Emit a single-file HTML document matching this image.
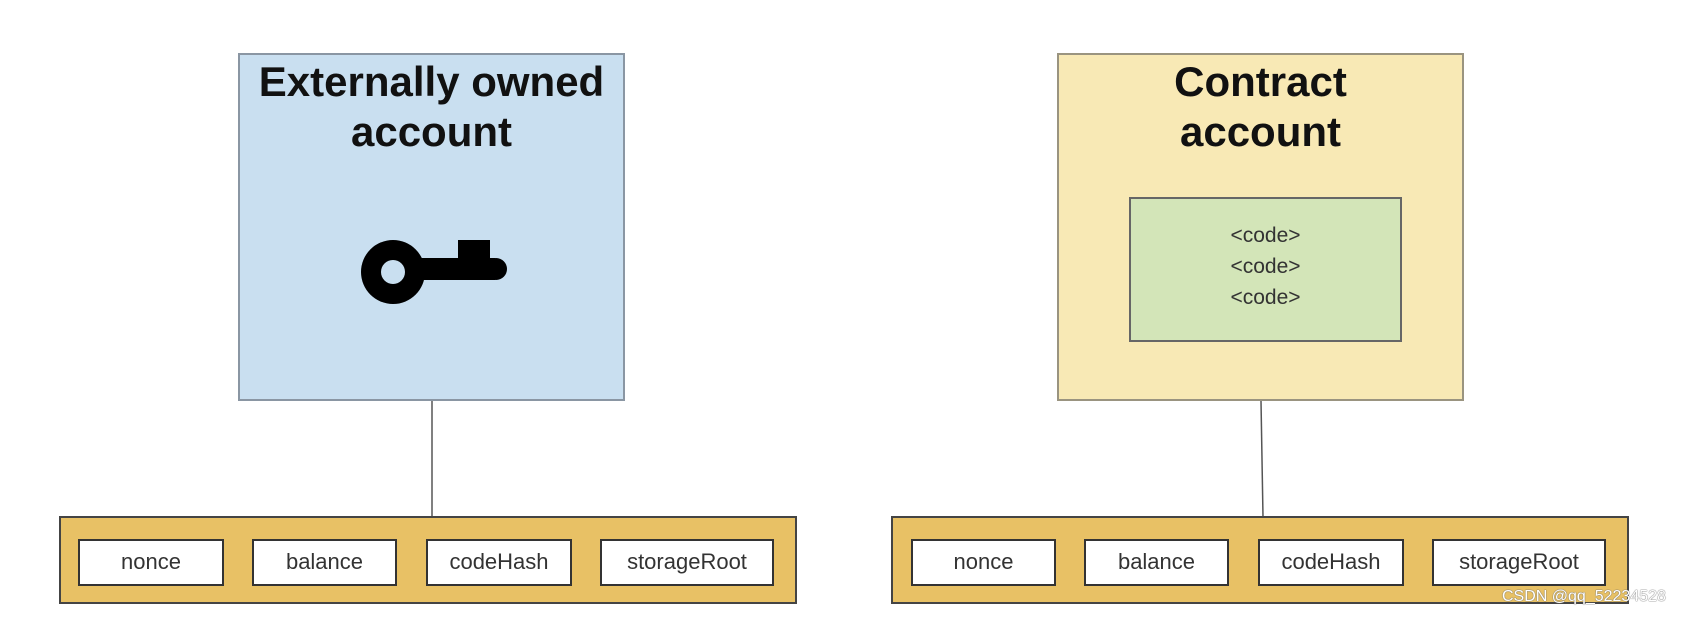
<!DOCTYPE html>
<html><head><style>
body{margin:0;width:1688px;height:618px;background:#fff;position:relative;overflow:hidden;font-family:"Liberation Sans",sans-serif}
.a{position:absolute;box-sizing:border-box}
.t{position:absolute;left:-20px;right:-20px;text-align:center;font-weight:bold;font-size:42px;color:#111;line-height:50px}
.bar{background:#e8c165;border:2px solid #444}
.f{position:absolute;box-sizing:border-box;background:#fff;border:2px solid #333;font-size:22px;color:#333;text-align:center;line-height:42px;top:539px;height:47px}
</style></head><body>
<div class="a" style="left:238px;top:53px;width:387px;height:348px;background:#c9dff0;border:2px solid #8a96a3">
 <div class="t" style="top:2px">Externally owned<br>account</div>
</div>
<svg class="a" style="left:0;top:0" width="1688" height="618">
 <circle cx="393" cy="272" r="32" fill="#000"/>
 <circle cx="393" cy="272" r="12" fill="#c9dff0"/>
 <rect x="415" y="258" width="80" height="22" fill="#000"/>
 <circle cx="496" cy="269" r="11" fill="#000"/>
 <rect x="458" y="240" width="32" height="22" fill="#000"/>
 <line x1="432" y1="401" x2="432" y2="517" stroke="#555" stroke-width="1.5"/>
 <line x1="1261" y1="401" x2="1263" y2="517" stroke="#555" stroke-width="1.5"/>
</svg>
<div class="a" style="left:1057px;top:53px;width:407px;height:348px;background:#f8e9b5;border:2px solid #9a9480">
 <div class="t" style="top:2px">Contract<br>account</div>
</div>
<div class="a" style="left:1129px;top:197px;width:273px;height:145px;background:#d3e5b8;border:2px solid #666;text-align:center;font-size:21px;color:#333;line-height:31px;padding-top:21px">&lt;code&gt;<br>&lt;code&gt;<br>&lt;code&gt;</div>
<div class="a bar" style="left:59px;top:516px;width:738px;height:88px"></div>
<div class="a bar" style="left:891px;top:516px;width:738px;height:88px"></div>
<div class="f" style="left:78px;width:146px">nonce</div>
<div class="f" style="left:252px;width:145px">balance</div>
<div class="f" style="left:426px;width:146px">codeHash</div>
<div class="f" style="left:600px;width:174px">storageRoot</div>
<div class="f" style="left:911px;width:145px">nonce</div>
<div class="f" style="left:1084px;width:145px">balance</div>
<div class="f" style="left:1258px;width:146px">codeHash</div>
<div class="f" style="left:1432px;width:174px">storageRoot</div>
<div class="a" style="left:1502px;top:588px;font-size:16px;color:#fff;text-shadow:0 0 1px #666,0 0 1px #666">CSDN @qq_52234528</div>
</body></html>
